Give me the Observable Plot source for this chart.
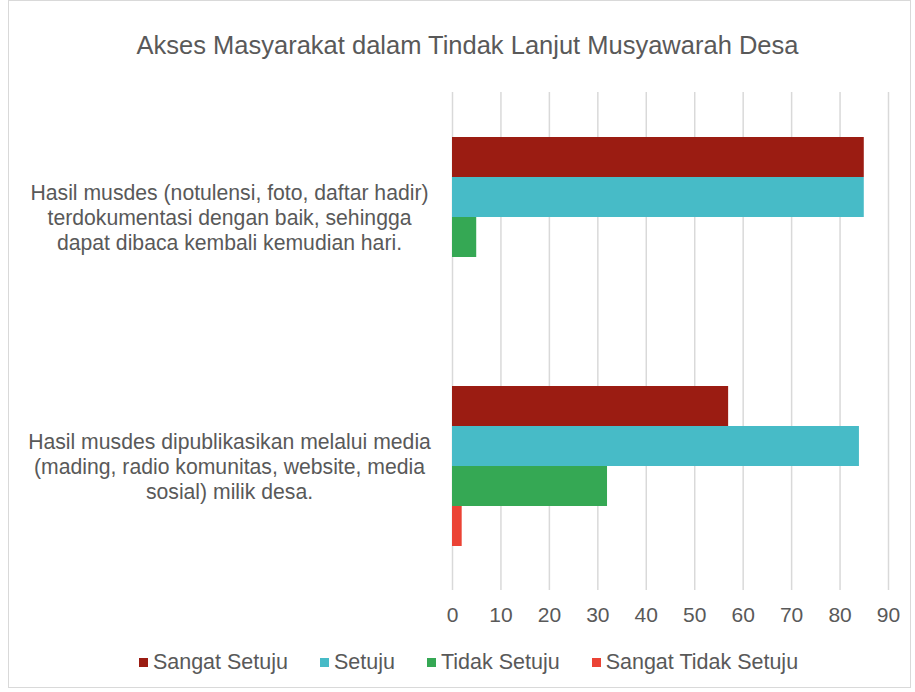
<!DOCTYPE html>
<html>
<head>
<meta charset="utf-8">
<script src="https://cdn.jsdelivr.net/npm/d3@7"></script>
<script src="https://cdn.jsdelivr.net/npm/@observablehq/plot@0.6"></script>
<style>
  html, body { margin: 0; padding: 0; background: #fff; }
  #wrap { position: relative; width: 915px; height: 692px; font-family: "Liberation Sans", Arial, sans-serif; color: #595959; }
  #frame { position: absolute; left: 8px; top: 0px; width: 903px; height: 688px; border: 1px solid #d9d9d9; box-sizing: border-box; pointer-events: none; }
  #title { height: 85px; box-sizing: border-box; padding-top: 32px; text-align: center; font-size: 25.5px; line-height: 26px; padding-left: 20px; }
  #legend { display: flex; justify-content: center; align-items: center; margin-top: 15px; padding-left: 22px; font-size: 21.5px; line-height: 24px; }
  .item { display: flex; align-items: center; margin: 0 16px; }
  .sw { width: 9px; height: 9px; margin-right: 5px; }
  svg { display: block; }
</style>
</head>
<body>
<div id="wrap">
  <div id="frame"></div>
  <div id="title">Akses Masyarakat dalam Tindak Lanjut Musyawarah Desa</div>
  <div id="chart"></div>
  <div id="legend"></div>
</div>
<script>
const categories = [
  "Hasil musdes (notulensi, foto, daftar hadir) terdokumentasi dengan baik, sehingga dapat dibaca kembali kemudian hari.",
  "Hasil musdes dipublikasikan melalui media (mading, radio komunitas, website, media sosial) milik desa."
];
const categoryLines = [
  ["Hasil musdes (notulensi, foto, daftar hadir)", "terdokumentasi dengan baik, sehingga", "dapat dibaca kembali kemudian hari."],
  ["Hasil musdes dipublikasikan melalui media", "(mading, radio komunitas, website, media", "sosial) milik desa."]
];
const series = ["Sangat Setuju", "Setuju", "Tidak Setuju", "Sangat Tidak Setuju"];
const sangatSetuju = [85, 57];
const setuju = [85, 84];
const tidakSetuju = [5, 32];
const sangatTidakSetuju = [0, 2];
const colors = ["#9B1C12", "#47BBC7", "#35A854", "#EB4335"];
const xTicks = [0, 10, 20, 30, 40, 50, 60, 70, 80, 90];

const valuesBySeries = [sangatSetuju, setuju, tidakSetuju, sangatTidakSetuju];
const data = [];
categories.forEach((c, i) => {
  series.forEach((s, j) => {
    data.push({category: c, series: s, value: valuesBySeries[j][i]});
  });
});
const labelOf = new Map(categories.map((c, i) => [c, categoryLines[i].join("\n")]));

const chart = Plot.plot({
  width: 915,
  height: 550,
  marginTop: 7,
  marginBottom: 45,
  marginLeft: 452,
  marginRight: 27,
  style: {fontFamily: "'Liberation Sans', Arial, sans-serif", fontSize: "21px", color: "#595959", background: "transparent"},
  x: {domain: [0, 90], axis: null},
  fy: {domain: categories, padding: 0, axis: null},
  y: {domain: series, paddingInner: 0, paddingOuter: 1.04, axis: null},
  color: {domain: series, range: colors},
  marks: [
    Plot.gridX(xTicks, {stroke: "#d9d9d9", strokeOpacity: 1, strokeWidth: 1.5}),
    Plot.barX(data, {x: "value", y: "series", fy: "category", fill: "series"}),
    Plot.axisX(xTicks, {anchor: "bottom", tickSize: 0, tickPadding: 17, label: null, fill: "#595959", fontSize: 21}),
    Plot.axisFy({anchor: "left", tickSize: 0, tickPadding: 0, label: null, tickFormat: d => labelOf.get(d),
      textAnchor: "middle", dx: -223, lineHeight: 1.19, fill: "#595959", fontSize: 21.2})
  ]
});
document.getElementById("chart").appendChild(chart);

const legend = document.getElementById("legend");
series.forEach((s, j) => {
  const it = document.createElement("div");
  it.className = "item";
  const sw = document.createElement("span");
  sw.className = "sw";
  sw.style.background = colors[j];
  const tx = document.createElement("span");
  tx.textContent = s;
  it.appendChild(sw);
  it.appendChild(tx);
  legend.appendChild(it);
});
</script>
</body>
</html>
